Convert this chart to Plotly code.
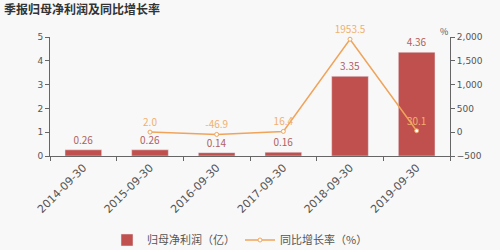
import plotly.graph_objects as go

categories = ["2014-09-30", "2015-09-30", "2016-09-30", "2017-09-30", "2018-09-30", "2019-09-30"]
profit = [0.26, 0.26, 0.14, 0.16, 3.35, 4.36]
growth_cats = ["2015-09-30", "2016-09-30", "2017-09-30", "2018-09-30", "2019-09-30"]
growth = [2.0, -46.9, 16.4, 1953.5, 30.1]
left_ticks = [0, 1, 2, 3, 4, 5]
right_ticks = [-500, 0, 500, 1000, 1500, 2000]

bar_color = "#c0504d"
line_color = "#f0a45a"
axis_color = "#666666"
bg = "#f8f8f8"

fig = go.Figure()
fig.add_trace(go.Bar(
    x=categories, y=profit, name="归母净利润（亿）",
    marker=dict(color=bar_color), width=0.55,
    text=[f"{v:.2f}" for v in profit], textposition="outside",
    textfont=dict(color="#b06060", size=10), cliponaxis=False,
))
fig.add_trace(go.Scatter(
    x=growth_cats, y=growth, name="同比增长率（%）", yaxis="y2",
    mode="lines+markers+text",
    line=dict(color=line_color, width=1.5),
    marker=dict(symbol="circle", size=4, color="white", line=dict(color=line_color, width=1)),
    text=[f"{v:.1f}" for v in growth], textposition="top center",
    textfont=dict(color="#f0b070", size=10), cliponaxis=False,
))

fig.update_layout(
    width=500, height=250,
    margin=dict(l=50, r=50, t=37, b=94),
    paper_bgcolor=bg, plot_bgcolor=bg,
    font=dict(family="Noto Sans CJK SC, DejaVu Sans", size=9, color="#555555"),
    title=dict(text="<b>季报归母净利润及同比增长率</b>", x=0.008, xanchor="left", y=0.96, yanchor="middle",
               font=dict(size=12, color="#333333")),
    bargap=0.45,
    showlegend=True,
    legend=dict(orientation="h", x=0.48, xanchor="center", xref="container",
                y=0.04, yanchor="middle", yref="container",
                font=dict(size=11, color="#555555"), bgcolor="rgba(0,0,0,0)",
                itemwidth=30),
    xaxis=dict(type="category", showline=True, linecolor=axis_color, ticks="outside",
               tickcolor=axis_color, ticklen=4, tickson="boundaries", tickangle=-45,
               automargin=False,
               tickfont=dict(size=11, color="#555555", family="DejaVu Sans"), showgrid=False),
    yaxis=dict(range=[0, 5], tickvals=left_ticks, showline=True, linecolor=axis_color,
               ticks="outside", tickcolor=axis_color, ticklen=4, showgrid=False, zeroline=False,
               automargin=False,
               tickfont=dict(size=9, color="#555555", family="DejaVu Sans")),
    yaxis2=dict(range=[-500, 2000], tickvals=right_ticks, overlaying="y", side="right",
                showline=True, linecolor=axis_color, ticks="outside", tickcolor=axis_color,
                ticklen=4, showgrid=False, zeroline=False, tickformat=",", automargin=False,
                tickfont=dict(size=9, color="#555555", family="DejaVu Sans")),
    annotations=[dict(text="%", xref="paper", yref="paper", x=1.0, y=1.0, yshift=14,
                      showarrow=False, font=dict(size=9, color="#555555"))],
)

fig.write_html("out.html")
